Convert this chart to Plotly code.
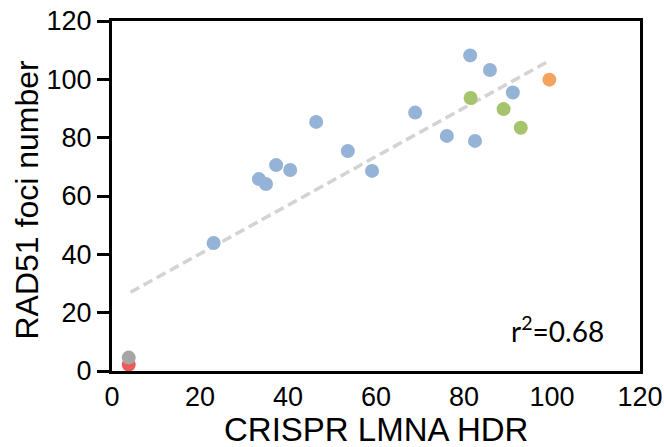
import plotly.graph_objects as go

# Data
blue_x = [23.1, 33.4, 35.0, 37.3, 40.5, 46.4, 53.6, 59.1, 68.9, 76.1, 81.4, 82.5, 85.9, 91.1]
blue_y = [43.9, 65.8, 64.1, 70.6, 68.9, 85.4, 75.4, 68.6, 88.6, 80.6, 108.2, 78.9, 103.2, 95.5]
green_x = [81.5, 89.0, 92.9]
green_y = [93.6, 89.8, 83.4]
orange_x = [99.4]
orange_y = [99.9]
red_x = [3.8]
red_y = [2.2]
gray_x = [3.8]
gray_y = [4.6]
trend_x = [4.2, 99.2]
trend_y = [27.0, 106.2]
x_ticks = [0, 20, 40, 60, 80, 100, 120]
y_ticks = [0, 20, 40, 60, 80, 100, 120]
x_title = "CRISPR LMNA HDR"
y_title = "RAD51 foci number"

FONT = "Liberation Sans, Arial, sans-serif"
MS = 14

fig = go.Figure()
fig.add_trace(go.Scatter(x=trend_x, y=trend_y, mode="lines",
                         line=dict(color="#D3D3D3", width=3.5, dash="10px,5px"),
                         hoverinfo="skip", showlegend=False))
for xs, ys, col in [(blue_x, blue_y, "#95B3D7"), (green_x, green_y, "#A6C46B"),
                    (orange_x, orange_y, "#F6A25F"), (red_x, red_y, "#EE5A5A"),
                    (gray_x, gray_y, "#A6A6A6")]:
    fig.add_trace(go.Scatter(x=xs, y=ys, mode="markers",
                             marker=dict(color=col, size=MS, line=dict(width=0)),
                             showlegend=False, cliponaxis=False))

fig.add_annotation(x=0.936, y=0.06, xref="paper", yref="paper",
                   text="r<sup>2</sup>=0.68", showarrow=False,
                   xanchor="right", yanchor="bottom",
                   font=dict(family="Lato, Open Sans, sans-serif", size=28, color="black"))
fig.add_annotation(x=0.5, y=-0.225, xref="paper", yref="paper", text=x_title,
                   showarrow=False, xanchor="center", yanchor="bottom",
                   font=dict(family=FONT, size=33, color="black"))
fig.add_annotation(x=-0.161, y=0.49, xref="paper", yref="paper", text=y_title,
                   showarrow=False, xanchor="center", yanchor="middle", textangle=-90,
                   font=dict(family=FONT, size=32, color="black"))

fig.update_layout(
    width=664, height=447,
    margin=dict(l=112, r=24, t=21, b=76, autoexpand=False),
    paper_bgcolor="white", plot_bgcolor="white",
    font=dict(family=FONT, color="black"),
    xaxis=dict(range=[0, 120], tickvals=x_ticks, ticks="", showgrid=False, zeroline=False,
               showline=True, linewidth=3, linecolor="black", mirror=True, automargin=False,
               tickfont=dict(size=27, family=FONT), ticklabelstandoff=0),
    yaxis=dict(range=[0, 120], tickvals=y_ticks, ticks="outside", ticklen=12, tickwidth=3,
               tickcolor="black", showgrid=False, zeroline=False, automargin=False,
               showline=True, linewidth=3, linecolor="black", mirror=True,
               tickfont=dict(size=27, family=FONT), ticklabelstandoff=0),
)

fig.write_html("out.html")
